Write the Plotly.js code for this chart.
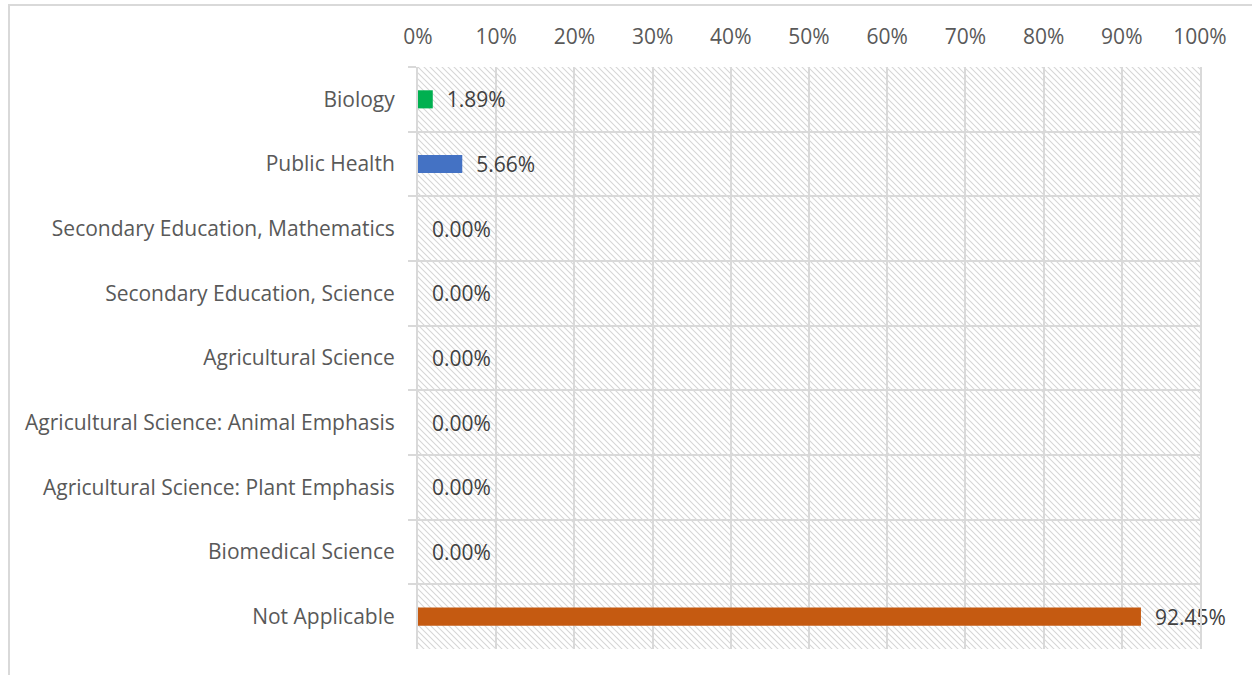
<!DOCTYPE html>
<html>
<head>
<meta charset="utf-8">
<script src="https://cdn.plot.ly/plotly-3.0.1.min.js"></script>
<style>
html,body{margin:0;padding:0;background:#fff;}
#chart{position:absolute;left:0;top:0;width:1252px;height:675px;}
#frame{position:absolute;left:8px;top:4px;width:1300px;height:700px;border-left:2px solid #d9d9d9;border-top:2px solid #d9d9d9;pointer-events:none;}
</style>
</head>
<body>
<div id="chart"></div>
<div id="frame"></div>
<script>
var categories = ["Biology","Public Health","Secondary Education, Mathematics","Secondary Education, Science","Agricultural Science","Agricultural Science: Animal Emphasis","Agricultural Science: Plant Emphasis","Biomedical Science","Not Applicable"];
var values = [1.89, 5.66, 0, 0, 0, 0, 0, 0, 92.45];
var barColors = ["#00B050","#4472C4","#4472C4","#4472C4","#4472C4","#4472C4","#4472C4","#4472C4","#C55A11"];
var xTickVals = [0,10,20,30,40,50,60,70,80,90,100];
var xTickText = ["0%","10%","20%","30%","40%","50%","60%","70%","80%","90%","100%"];

var W = 1252, H = 675;
var margin = {l:418, r:52, t:67, b:26};
var pw = W - margin.l - margin.r, ph = H - margin.t - margin.b;

var svg = '<svg xmlns="http://www.w3.org/2000/svg" width="'+pw+'" height="'+ph+'">' +
  '<defs><pattern id="p" patternUnits="userSpaceOnUse" width="6" height="6">' +
  '<path d="M-1,-1 L7,7 M-4,2 L2,8 M4,-2 L8,2" stroke="#d6d6d6" stroke-width="1.1"/></pattern></defs>' +
  '<rect width="100%" height="100%" fill="#fff"/><rect width="100%" height="100%" fill="url(#p)"/></svg>';
var hatch = 'data:image/svg+xml;base64,' + btoa(svg);

var pad = '\u00a0\u00a0';
var trace = {
  type: 'bar',
  orientation: 'h',
  y: categories,
  x: values,
  marker: {color: barColors},
  width: 0.28,
  text: values.map(function(v){ return pad + v.toFixed(2) + '%'; }),
  textposition: 'outside',
  constraintext: 'none',
  cliponaxis: false,
  textfont: {family: 'Open Sans, sans-serif', size: 21, color: '#404040'},
  hoverinfo: 'none'
};

var layout = {
  width: W, height: H,
  margin: margin,
  paper_bgcolor: '#ffffff',
  plot_bgcolor: 'rgba(0,0,0,0)',
  showlegend: false,
  font: {family: 'Open Sans, sans-serif', size: 21, color: '#595959'},
  xaxis: {
    side: 'top',
    range: [0, 100],
    tickvals: xTickVals,
    ticktext: xTickText,
    showgrid: true,
    gridcolor: '#d9d9d9',
    gridwidth: 2,
    zeroline: false,
    showline: false,
    ticks: '',
    tickfont: {size: 21, color: '#595959'},
    ticklabelstandoff: 18,
    fixedrange: true
  },
  yaxis: {
    type: 'category',
    autorange: 'reversed',
    tickson: 'boundaries',
    ticks: 'outside',
    ticklen: 8,
    tickcolor: '#d9d9d9',
    tickwidth: 2,
    showgrid: true,
    gridcolor: '#d9d9d9',
    gridwidth: 2,
    showline: true,
    linecolor: '#d9d9d9',
    linewidth: 2,
    mirror: true,
    zeroline: false,
    tickfont: {size: 21, color: '#595959'},
    ticklabelstandoff: 17,
    fixedrange: true
  },
  images: [{
    source: hatch,
    xref: 'paper', yref: 'paper',
    x: 0, y: 1, sizex: 1, sizey: 1,
    xanchor: 'left', yanchor: 'top',
    sizing: 'stretch',
    layer: 'below'
  }]
};

Plotly.newPlot('chart', [trace], layout, {displayModeBar: false, staticPlot: true});
</script>
</body>
</html>
